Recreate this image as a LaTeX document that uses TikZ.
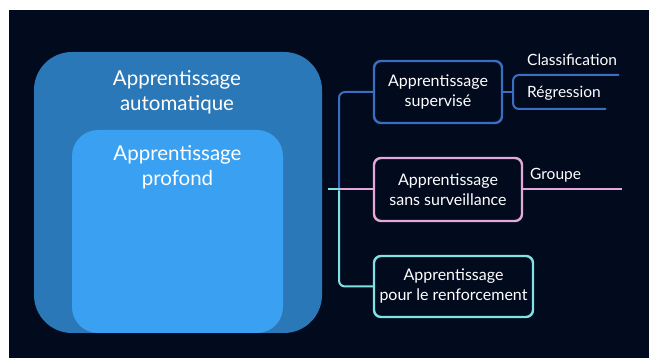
\documentclass[tikz,border=0pt]{standalone}
\usepackage{fontspec}
\setmainfont{Lato}
\newcommand\apprword{Appren\kern0pt tissage}
\definecolor{bg}{HTML}{020A1E}
\definecolor{outerblue}{HTML}{2B78B8}
\definecolor{innerblue}{HTML}{3AA1F2}
\definecolor{supblue}{HTML}{3A6EC0}
\definecolor{pinkc}{HTML}{E4A8DA}
\definecolor{cyanc}{HTML}{80E2E2}
\tikzset{
  rbox/.style={draw, line width=2.4pt, rounded corners=7pt, text=white, align=center,
    font=\fontsize{16}{20}\selectfont, inner sep=0pt},
  lbl/.style={text=white, anchor=west, inner sep=0pt, font=\fontsize{15.5}{19}\selectfont},
  conn/.style={line width=2pt, rounded corners=6pt},
  straight/.style={line width=2pt},
  bigtext/.style={text=white, align=center, font=\fontsize{20.5}{25}\selectfont, inner sep=0pt}
}
\begin{document}
\begin{tikzpicture}[x=1pt,y=-1pt]
\useasboundingbox (0,0) rectangle (649,358);
\fill[white] (0,0) rectangle (649,358);
\fill[bg] (9,10) rectangle (649,358);
% nested areas
\fill[outerblue, rounded corners=38pt] (34,52) rectangle (322,333);
\fill[innerblue, rounded corners=26pt] (72,130) rectangle (283,333);
\node[bigtext] (ml) at (177,92.5) {\apprword\\automa\kern0pt tique};
\node[bigtext] (dl) at (177.5,167.5) {\apprword\\profond};
% boxes
\node[rbox, draw=supblue, minimum width=128pt, minimum height=62pt] (sup) at (438,92) {\apprword\\supervisé};
\node[rbox, draw=pinkc, minimum width=148pt, minimum height=63pt] (uns) at (448,189.5) {\apprword\\sans surveillance};
\node[rbox, draw=cyanc, minimum width=159pt, minimum height=61pt] (rl) at (453.5,286.5) {\apprword\\pour le renforcement};
% trunk
\coordinate (root) at (328,189.5);
\coordinate (jn) at (339,189.5);
\draw[conn, supblue] (jn) |- (sup.west);
\draw[straight, pinkc] (jn) -- (uns.west);
\draw[conn, cyanc] ([yshift=-1pt]jn) |- (rl.west);
\draw[straight, cyanc] (root) -- ([xshift=1pt]jn);
% supervised children
\coordinate (br) at (513,92);
\coordinate (c1) at (619,75);
\coordinate (c2) at (606,109);
\draw[straight, supblue] (sup.east) -- (br);
\draw[conn, supblue] (c1) -| (br) |- (c2);
\node[lbl] (cls) at (527,60) {Classifica\kern0pt tion};
\node[lbl] (reg) at (527,93) {Régression};
% unsupervised child
\coordinate (g1) at (622,189.5);
\draw[straight, pinkc] (uns.east) -- (g1);
\node[lbl] (grp) at (530,175) {Groupe};
\end{tikzpicture}
\end{document}
